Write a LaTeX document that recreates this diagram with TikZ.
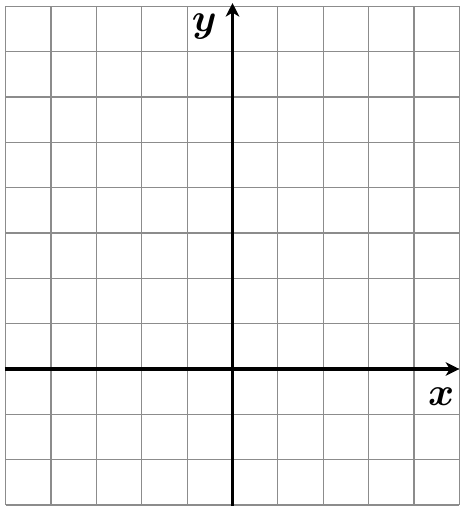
\documentclass[tikz,border=0pt]{standalone}
\usepackage{bm}
\usetikzlibrary{arrows.meta}
\begin{document}
\begin{tikzpicture}[
  gridline/.style={draw=black!45, line width=0.8pt},
  axisline/.style={line width=2.1pt, -{Stealth[length=8.5pt,width=8.5pt,inset=2.5pt]}},
  axislabel/.style={font=\fontsize{29}{32}\selectfont, inner sep=0pt}
]
\useasboundingbox (-5.127,-3.021) rectangle (5.017,8.137);
\fill[white] (-5.127,-3.021) rectangle (5.017,8.137);
\draw[gridline] (-5,-3) grid (5,8);
\coordinate (xs) at (-5.02,0);
\coordinate (xe) at (5.0,0);
\coordinate (ys) at (0,-3.1);
\coordinate (ye) at (0,8.07);
\draw[axisline] (xs) -- (xe);
\draw[axisline] (ys) -- (ye);
\node[axislabel] (ylab) at (-0.62,7.56) {$\bm{y}$};
\node[axislabel] (xlab) at (4.6,-0.6) {$\bm{x}$};
\end{tikzpicture}
\end{document}
